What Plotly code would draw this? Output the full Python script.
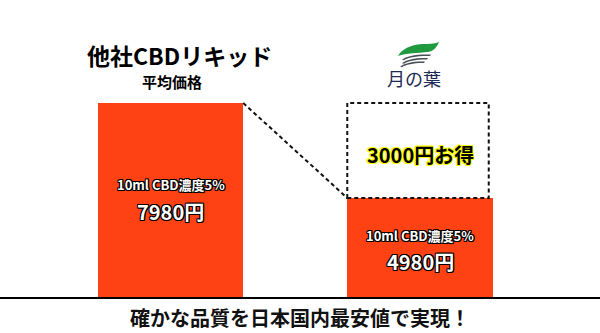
import plotly.graph_objects as go

# ---- data ----
categories = ["他社CBDリキッド", "月の葉"]
prices = [7980, 4980]
spec_labels = ["10ml CBD濃度5%", "10ml CBD濃度5%"]
title_main = "他社CBDリキッド"
title_sub = "平均価格"
brand = "月の葉"
footer = "確かな品質を日本国内最安値で実現！"

BAR = "#FF4214"
W = 600
H = 333
PLOT_B = 297  # pixel y of axis line
BW = 0.583
FONT = "Noto Sans CJK JP"

x_idx = [0, 1]
saving = prices[0] - prices[1]

fig = go.Figure()
fig.add_trace(go.Bar(x=x_idx, y=prices, width=BW, marker=dict(color=BAR, line=dict(width=0)),
                     hoverinfo="skip"))


def px(x):
    return x / W


def py(y):
    return (PLOT_B - y) / PLOT_B


outline_black = "-1px -1px 0 #000, 1px -1px 0 #000, -1px 1px 0 #000, 1px 1px 0 #000, 0 1px 0 #000, 0 -1px 0 #000, 1px 0 0 #000, -1px 0 0 #000"
outline_yellow = "-1px -1px 0 #ff0, 1px -1px 0 #ff0, -1px 1px 0 #ff0, 1px 1px 0 #ff0, 0 1px 0 #ff0, 0 -1px 0 #ff0, 1px 0 0 #ff0, -1px 0 0 #ff0"

C = dict(xanchor="center", yanchor="middle", showarrow=False)

ann = []
# titles
ann.append(dict(x=px(179), y=py(55), xref="paper", yref="paper", text="<b>%s</b>" % title_main,
                font=dict(family=FONT, size=23, color="#000"), **C))
ann.append(dict(x=px(172), y=py(82), xref="paper", yref="paper", text="<b>%s</b>" % title_sub,
                font=dict(family=FONT, size=15, color="#000"), **C))
ann.append(dict(x=px(414), y=py(78), xref="paper", yref="paper", text=brand,
                font=dict(family=FONT, size=18, color="#1d2b55"), **C))

# bar labels
centers_y_spec = [184, 236]
centers_y_price = [211, 261]
for i in range(2):
    ann.append(dict(x=x_idx[i], xref="x", y=py(centers_y_spec[i]), yref="paper",
                    text="<b>%s</b>" % spec_labels[i],
                    font=dict(family=FONT, size=13, color="#fff", shadow=outline_black), **C))
    ann.append(dict(x=x_idx[i], xref="x", y=py(centers_y_price[i]), yref="paper",
                    text="<b>%d円</b>" % prices[i],
                    font=dict(family=FONT, size=20, color="#fff", shadow=outline_black), **C))

ann.append(dict(x=1, xref="x", y=py(154), yref="paper",
                text="<b>%d円お得</b>" % saving,
                font=dict(family=FONT, size=20, color="#000", shadow=outline_yellow), **C))

ann.append(dict(x=0.5, y=py(317), xref="paper", yref="paper", text="<b>%s</b>" % footer,
                font=dict(family=FONT, size=20, color="#111"), **C))

shapes = []
# dashed box
shapes.append(dict(type="rect", xref="x", yref="y", x0=1 - BW / 2, x1=1 + BW / 2 - 0.016,
                   y0=prices[1], y1=prices[0], line=dict(color="#111", width=2, dash="4px,3px"),
                   fillcolor="rgba(0,0,0,0)"))
# diagonal dashed connector
shapes.append(dict(type="line", xref="x", yref="y", x0=BW / 2, y0=prices[0], x1=1 - BW / 2, y1=prices[1],
                   line=dict(color="#111", width=2, dash="4px,3px")))


def path(points, close=True):
    s = "M %f,%f " % (px(points[0][0]), py(points[0][1]))
    for p in points[1:]:
        if len(p) == 6:
            s += "C %f,%f %f,%f %f,%f " % (px(p[0]), py(p[1]), px(p[2]), py(p[3]), px(p[4]), py(p[5]))
        else:
            s += "L %f,%f " % (px(p[0]), py(p[1]))
    if close:
        s += "Z"
    return s


# logo leaf (green)
shapes.append(dict(type="path", xref="paper", yref="paper", line=dict(width=0), fillcolor="#1f9a3e",
                   path=path([(398, 56), (402, 49, 410, 45, 422, 44), (428, 44, 434, 44, 439, 42),
                              (437, 47, 434, 51, 428, 52), (418, 53, 406, 53, 398, 56)])))
# logo swooshes (gray)
for k, (yy, x0) in enumerate([(58, 402), (61.5, 402), (65, 400)]):
    shapes.append(dict(type="path", xref="paper", yref="paper", line=dict(width=0), fillcolor="#4a4f55",
                       path=path([(x0, yy + 1.8), (x0 + 4, yy - 2, x0 + 14, yy - 4, 431 - 3 * k, yy - 3.5),
                                  (430 - 3 * k, yy - 2), (x0 + 14, yy - 2.2, x0 + 6, yy - 0.5, x0 + 2, yy + 2.2)])))

fig.update_layout(
    width=W, height=H,
    margin=dict(l=0, r=0, t=0, b=H - PLOT_B),
    paper_bgcolor="#fff", plot_bgcolor="#fff",
    showlegend=False,
    bargap=0,
    xaxis=dict(range=[-170.5 / 249.5, (W - 170.5) / 249.5], showgrid=False, zeroline=False,
               showticklabels=False, showline=True, linecolor="#000", linewidth=2, fixedrange=True),
    yaxis=dict(range=[1854, 11233], showgrid=False, zeroline=False, showticklabels=False,
               showline=False, fixedrange=True),
    annotations=ann,
    shapes=shapes,
)

fig.write_html("out.html", config={"displayModeBar": False})
